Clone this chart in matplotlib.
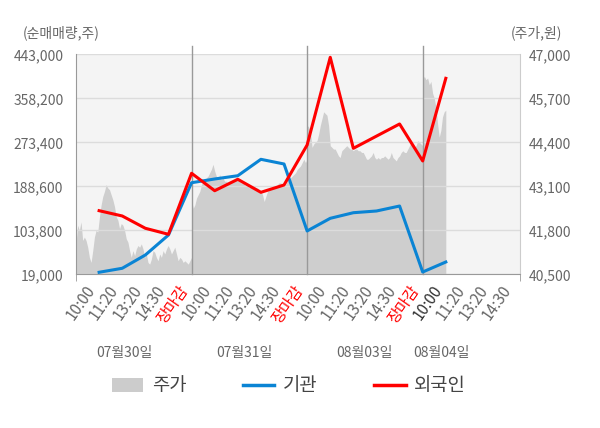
import matplotlib.pyplot as plt
from matplotlib.patches import Patch
from matplotlib.lines import Line2D
import numpy as np

plt.rcParams['font.family'] = ['Noto Sans CJK KR', 'DejaVu Sans']

times = ['10:00', '11:20', '13:20', '14:30', '장마감']
dates = ['07월30일', '07월31일', '08월03일', '08월04일']

# net buying (shares), one value per time label, 07/30 10:00 .. 08/04 10:00
inst = [22900, 30600, 56200, 94700, 195500, 202700, 209000, 240600, 231600,
        102500, 126900, 137700, 141000, 150600, 23400, 42700]
foreign = [141600, 131400, 107700, 96100, 213700, 180100, 202100, 177000, 191100,
           268200, 437200, 261800, 285300, 308700, 237400, 396700]

# intraday price (won)
price_0730 = [41400, 41950, 41800, 42050, 41500, 41600, 41500, 41300, 41000, 40850,
              41200, 41600, 41800, 41750, 42200, 42550, 42800, 42950, 43150, 43050,
              43000, 42850, 42700, 42500, 42200, 42100, 41850, 42000, 41950, 41800,
              41550, 41450, 41200, 41000, 41200, 41050, 41250, 41350, 41300, 41400,
              41250, 41000, 41100, 40850, 40800, 40950, 41200, 41150, 41000, 40900,
              41100, 41000, 41200, 41100, 41250, 41350, 41250, 41100, 41200, 41300,
              41100, 40900, 41000, 40950, 40850, 40900, 40850, 40800, 40900, 41000]
price_0731 = [42700, 42450, 42550, 42750, 42850, 42950, 43150, 43250, 43300, 43350,
              43400, 43500, 43600, 43750, 43550, 43400, 43300, 43450, 43300, 43350,
              43250, 43250, 43200, 43250, 43200, 43300, 43250, 43350, 43300, 43250,
              43200, 43200, 43150, 43100, 43100, 43050, 43100, 43050, 43100, 43050,
              43050, 43000, 42950, 42850, 42650, 42800, 42950, 43000, 43050, 43050,
              43100, 43100, 43150, 43200, 43200, 43150, 43100, 43150, 43250, 43300,
              43350, 43400, 43450, 43500, 43600, 43650, 43700, 43800, 43900, 43800,
              43900]
price_0803 = [44900, 44850, 44700, 44250, 44350, 44400, 44450, 44650, 44900, 45100,
              45300, 45250, 45200, 44900, 44300, 44250, 44200, 44200, 44100, 44000,
              43950, 44150, 44200, 44250, 44300, 44250, 44200, 44200, 44150, 44200,
              44200, 44150, 44150, 44100, 44100, 44000, 43900, 43900, 43950, 44000,
              44100, 43950, 43900, 43950, 43900, 43950, 43950, 44000, 43950, 43900,
              43950, 44100, 43950, 43900, 43850, 43950, 44000, 44100, 44150, 44100,
              44100, 44200, 44300, 44400, 44300, 44250, 44300, 44450, 44400, 44350,
              44300]
price_0804 = [46250, 46350, 46250, 46300, 46100, 46200, 45850, 45700, 45450, 44950,
              44550, 44750, 45150, 45300, 45350]  # up to 10:00

vol_ticks = [19000, 103800, 188600, 273400, 358200, 443000]
price_ticks = [40500, 41800, 43100, 44400, 45700, 47000]

blue = '#0a84d4'
red = '#ff0000'
grey_txt = '#666666'

fig = plt.figure(figsize=(6, 4.28), dpi=100)
ax = fig.add_axes([76 / 600, 1 - 274.3 / 428, 444 / 600, 220 / 428])
ax2 = ax.twinx()
ax.set_zorder(2)
ax2.set_zorder(1)
ax.patch.set_visible(False)
ax2.patch.set_visible(True)
ax2.patch.set_facecolor('#f4f4f4')

# price area: each day takes 5 label slots, last day only to 10:00
n_slot = len(times)
days = [(price_0730, n_slot), (price_0731, n_slot), (price_0803, n_slot), (price_0804, 1)]
for d, (p, span) in enumerate(days):
    x = d * n_slot + np.linspace(0, span, len(p))
    ax2.fill_between(x, p, 40500, color='#cecece', lw=0)

x_line = np.arange(1, len(inst) + 1)
ax.plot(x_line, inst, color=blue, lw=2.2, zorder=4)
ax.plot(x_line, foreign, color=red, lw=2.2, zorder=5)

for d in range(1, 4):
    ax.axvline(d * n_slot, ymin=0, ymax=1.04, color='#999999', lw=1, zorder=3, clip_on=False)

x_end = 19.21
ax.set_xlim(0, x_end)
ax.set_ylim(19000, 443000)
ax2.set_ylim(40500, 47000)

ax.set_yticks(vol_ticks)
ax.set_yticklabels([f'{v:,}' for v in vol_ticks])
ax2.set_yticks(price_ticks)
ax2.set_yticklabels([f'{v:,}' for v in price_ticks])
ax.tick_params(axis='y', length=0, pad=9, labelsize=10, labelcolor=grey_txt)
ax2.tick_params(axis='y', length=0, pad=6, labelsize=10, labelcolor=grey_txt)
ax.yaxis.grid(True, color='#dcdcdc', lw=1)
ax.set_axisbelow(True)

labels = (times * len(dates))[:-1]
ax.set_xticks(np.arange(1, len(labels) + 1))
ax.set_xticklabels(labels, rotation=55, ha='right', fontsize=11)
for i, t in enumerate(ax.get_xticklabels()):
    if t.get_text() == '장마감':
        t.set_color(red)
    elif i == 15:
        t.set_color('#333333')
    else:
        t.set_color(grey_txt)
ax.tick_params(axis='x', length=0, pad=6)
ax.set_xticks([0, 5, 10, 15, x_end], minor=True)
ax.tick_params(axis='x', which='minor', length=5, color='#999999')

for a in (ax, ax2):
    for s in a.spines.values():
        s.set_visible(False)
ax.spines['left'].set_visible(True)
ax.spines['left'].set_color('#999999')
ax.spines['bottom'].set_visible(True)
ax.spines['bottom'].set_color('#999999')
ax.spines['right'].set_visible(True)
ax.spines['right'].set_color('#cccccc')

date_pos = [2.1, 7.3, 12.5, 15.8]
for xp, dt in zip(date_pos, dates):
    ax.text(xp, -0.358, dt, transform=ax.get_xaxis_transform(), ha='center', va='center',
            fontsize=10, color=grey_txt)

fig.text(23 / 600, 1 - 33 / 428, '(순매매량,주)', ha='left', va='center', fontsize=10, color=grey_txt)
fig.text(562 / 600, 1 - 33 / 428, '(주가,원)', ha='right', va='center', fontsize=10, color=grey_txt)

handles = [Patch(facecolor='#cccccc', edgecolor='none'),
           Line2D([], [], color=blue, lw=2.5),
           Line2D([], [], color=red, lw=2.5)]
fig.legend(handles, ['주가', '기관', '외국인'], loc='center', bbox_to_anchor=(0.481, 1 - 386 / 428),
           ncol=3, frameon=False, fontsize=13.5, handlelength=1.7, handleheight=0.8,
           columnspacing=3.0, handletextpad=0.45, labelcolor='#444444')

fig.savefig('out.png', dpi=100)
